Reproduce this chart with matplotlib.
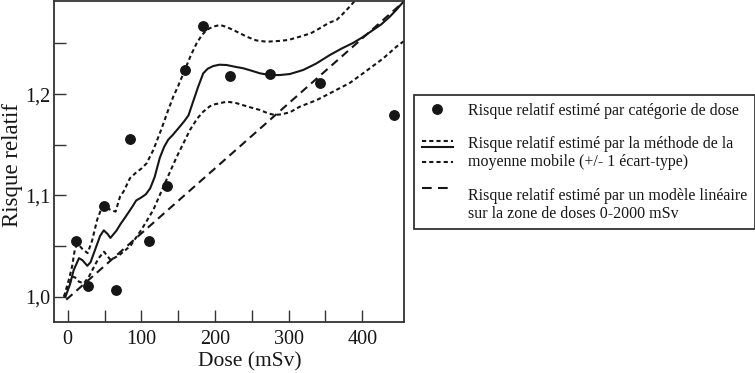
import matplotlib
matplotlib.use('Agg')
import matplotlib.pyplot as plt
from matplotlib.lines import Line2D
from matplotlib.legend_handler import HandlerBase

plt.rcParams['font.family'] = ['Liberation Serif', 'DejaVu Serif']
plt.rcParams['lines.scale_dashes'] = False

# ---------------- data ----------------
pts_dose = [10.9, 28, 48.8, 65.5, 85, 110, 135, 159.6, 183.6, 221, 275, 342.7, 442.7]
pts_rr = [1.0553, 1.0109, 1.0898, 1.0066, 1.1554, 1.0553, 1.1093, 1.2235, 1.267,
          1.2175, 1.2198, 1.2113, 1.179]

mm_dose = [-3, 3, 8, 15.3, 20, 26.6, 31, 38, 44, 49, 54, 58, 66, 72, 78.7, 87, 93,
           100, 106, 112, 118, 125, 131, 136.5, 143, 150, 158, 164, 170, 177, 184,
           190, 197.6, 206, 215.7, 227, 238.3, 250, 261, 274.5, 288, 301.6, 319.7,
           337, 356, 372, 387.5, 400, 414.7, 426, 437.3, 446, 455]
mm_rr = [1.000, 1.012, 1.026, 1.038, 1.036, 1.0305, 1.034, 1.048, 1.060, 1.0655,
         1.062, 1.058, 1.065, 1.072, 1.079, 1.088, 1.095, 1.098, 1.101, 1.107,
         1.118, 1.137, 1.148, 1.155, 1.160, 1.166, 1.173, 1.179, 1.192, 1.207,
         1.2205, 1.225, 1.2277, 1.229, 1.2287, 1.227, 1.2255, 1.223, 1.2205,
         1.2188, 1.2188, 1.2198, 1.2238, 1.230, 1.2386, 1.245, 1.2505, 1.256,
         1.2633, 1.269, 1.2764, 1.283, 1.2905]

up_dose = [-5, 2, 6, 10, 14, 20, 27, 33, 40, 47, 52, 58, 65, 71, 76, 84.5, 92,
           100.4, 107.2, 116.2, 127, 136.5, 143.3, 150, 159, 167, 175, 182, 188.6,
           197, 206.6, 215, 224.7, 234, 242.9, 256, 270, 288, 300, 315.2, 330,
           342.3, 355, 365, 372, 378.6, 385, 392]
up_rr = [1.000, 1.018, 1.030, 1.048, 1.052, 1.047, 1.043, 1.055, 1.076, 1.0895,
         1.089, 1.0856, 1.084, 1.0987, 1.104, 1.1169, 1.122, 1.1267, 1.1317,
         1.1448, 1.165, 1.1843, 1.1974, 1.208, 1.2238, 1.238, 1.2501, 1.258,
         1.2633, 1.2665, 1.2682, 1.2665, 1.2633, 1.260, 1.2567, 1.253, 1.2517,
         1.2525, 1.2535, 1.2567, 1.260, 1.265, 1.2705, 1.2731, 1.278, 1.283,
         1.288, 1.294]

lo_dose = [-5, 2, 6.3, 10, 15.3, 22, 29, 35.8, 42, 49.3, 54, 58.3, 70, 85, 100,
           116.2, 132, 148, 166, 176, 184, 193, 200, 206.6, 215.7, 227, 238.3,
           250, 261, 272, 281, 290, 301.6, 315.2, 337.8, 356, 383, 401, 428,
           446.4, 456]
lo_rr = [1.000, 1.012, 1.0197, 1.019, 1.0148, 1.0132, 1.020, 1.0296, 1.038,
         1.0444, 1.040, 1.0362, 1.041, 1.050, 1.066, 1.0856, 1.112, 1.138,
         1.1646, 1.176, 1.1826, 1.188, 1.190, 1.191, 1.1925, 1.1915, 1.189,
         1.1865, 1.1843, 1.181, 1.1794, 1.180, 1.182, 1.1876, 1.194, 1.2008,
         1.211, 1.2205, 1.235, 1.2468, 1.252]

lin_dose = [-2, 456]
lin_rr = [0.997, 1.291]

xticks = [0, 50, 100, 150, 200, 250, 300, 350, 400]
xticklabels = ['0', '', '100', '', '200', '', '300', '', '400']
yticks = [1.00, 1.05, 1.10, 1.15, 1.20, 1.25]
yticklabels = ['1,0', '', '1,1', '', '1,2', '']

legend_labels = [
    'Risque relatif estimé par catégorie de dose',
    'Risque relatif estimé par la méthode de la\nmoyenne mobile (+/- 1 écart-type)',
    'Risque relatif estimé par un modèle linéaire\nsur la zone de doses 0-2000 mSv',
]
x_label = 'Dose (mSv)'
y_label = 'Risque relatif'

# ---------------- styles ----------------
INK = '#161616'
DOT = (0, (3.0, 2.2))
DASH = (0, (6.0, 3.8))
LW = 1.5

W, H = 755, 373
fig = plt.figure(figsize=(W / 100, H / 100), dpi=100)
ax = fig.add_axes([54.3 / W, 1 - 321.5 / H, (404 - 54.3) / W, (321.5 - 1) / H])

ax.plot(lin_dose, lin_rr, color=INK, lw=LW, linestyle=DASH)
ax.plot(up_dose, up_rr, color=INK, lw=LW, linestyle=DOT)
ax.plot(lo_dose, lo_rr, color=INK, lw=LW, linestyle=DOT)
ax.plot(mm_dose, mm_rr, color=INK, lw=LW, linestyle='-')
ax.plot(pts_dose, pts_rr, 'o', color=INK, ms=6.8, zorder=5)

ax.set_xlim(-18.2, 456.6)
ax.set_ylim(0.9755, 1.2919)
ax.set_xticks(xticks)
ax.set_xticklabels(xticklabels)
ax.set_yticks(yticks)
ax.set_yticklabels(yticklabels)
ax.tick_params(direction='in', length=8.6, width=1.0, color='#333333',
               labelsize=14.5, labelcolor=INK)
ax.tick_params(axis='x', pad=6)
ax.tick_params(axis='y', pad=3)
for s in ax.spines.values():
    s.set_linewidth(1.3)
    s.set_color('#333333')

ax.set_xlabel(x_label, fontsize=15.5, color=INK)
ax.xaxis.set_label_coords((249.5 - 54.3) / 349.7, (321.5 - 352) / 320.5)
ax.set_ylabel(y_label, fontsize=16.5, color=INK)
ax.yaxis.set_label_coords((23 - 54.3) / 349.7, 1 - (165 - 1) / 320.5)


class OffsetLinesHandler(HandlerBase):
    def __init__(self, specs):
        super().__init__()
        self.specs = specs

    def create_artists(self, legend, orig_handle, xdescent, ydescent, width,
                       height, fontsize, trans):
        x0 = -xdescent
        x1 = x0 + width
        yc = -ydescent + height / 2
        arts = []
        for dy, ls in self.specs:
            ln = Line2D([x0, x1], [yc + dy, yc + dy], color=INK, lw=LW, linestyle=ls)
            ln.set_transform(trans)
            arts.append(ln)
        return arts


h_pts = Line2D([], [], marker='o', color=INK, linestyle='None', ms=6.8)
h_band = Line2D([], [], color=INK)
h_lin = Line2D([], [], color=INK, linestyle=DASH)

leg = ax.legend([h_pts, h_band, h_lin], legend_labels,
                loc='upper left', bbox_to_anchor=(414 / W, 1 - 95 / H),
                bbox_transform=fig.transFigure, borderaxespad=0,
                fontsize=11.5, frameon=True, fancybox=False, framealpha=1,
                edgecolor='#333333', borderpad=0.47, labelspacing=1.1,
                handlelength=2.0, handletextpad=0.9,
                handler_map={
                    h_band: OffsetLinesHandler([(9.0, DOT), (4.6, '-'), (-6.2, DOT)]),
                    h_lin: OffsetLinesHandler([(12.4, (0, (7.0, 4.5)))]),
                })
leg.get_frame().set_linewidth(1.3)
for t in leg.get_texts():
    t.set_linespacing(1.18)
    t.set_color(INK)

fig.savefig('out.png', dpi=100)
